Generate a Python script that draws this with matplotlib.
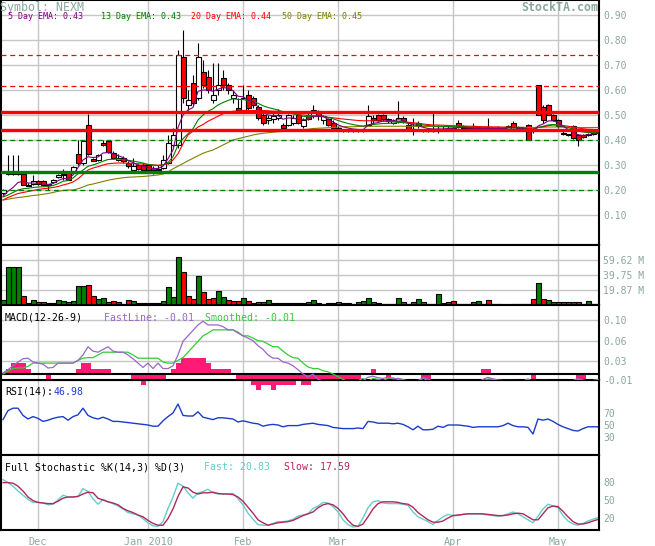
import numpy as np
import pandas as pd
import matplotlib
matplotlib.use("Agg")
import matplotlib.pyplot as plt

plt.rcParams['font.family'] = ['DejaVu Sans Mono']

W, H = 655, 546
TXT = '#8aa89c'

holidays = ["2009-11-26", "2009-12-25", "2010-01-01", "2010-01-18", "2010-02-15", "2010-04-02"]
dates = pd.bdate_range("2009-11-19", "2010-05-13")
dates = dates[~dates.isin(pd.to_datetime(holidays))]

opens = [.190, .268, .268, .268, .265, .222, .225, .236, .235, .222,
         .232, .252, .262, .272, .270, .345, .310, .460, .325, .320,
         .390, .395, .350, .320, .330, .310, .280, .300, .300, .300,
         .290, .280, .290, .310, .380, .380, .730, .540, .630, .570,
         .670, .650, .560, .600, .650, .620, .570, .530, .520, .580,
         .570, .530, .500, .480, .485, .490, .460, .460, .470, .500,
         .455, .500, .495, .515, .480, .485, .470, .450, .440, .436,
         .438, .436, .438, .460, .490, .500, .500, .475, .470, .475,
         .490, .460, .440, .470, .440, .437, .437, .440, .440, .445,
         .445, .470, .455, .450, .450, .445, .447, .445, .448, .448,
         .447, .445, .470, .450, .445, .460, .440, .620, .530, .540,
         .500, .480, .430, .420, .456, .420, .420, .420, .425, .430]
highs = [.205, .340, .340, .340, .270, .230, .262, .240, .240, .226,
         .245, .265, .285, .275, .295, .400, .400, .505, .330, .345,
         .400, .400, .355, .345, .335, .315, .330, .305, .310, .300,
         .295, .300, .340, .420, .450, .760, .840, .600, .660, .790,
         .720, .680, .710, .710, .680, .630, .600, .570, .620, .600,
         .575, .540, .510, .500, .510, .525, .470, .505, .500, .505,
         .490, .510, .540, .520, .500, .490, .480, .455, .445, .440,
         .445, .440, .445, .540, .500, .505, .505, .490, .485, .555,
         .495, .470, .490, .475, .445, .445, .510, .460, .455, .460,
         .455, .480, .460, .455, .470, .450, .450, .490, .450, .455,
         .450, .460, .475, .455, .450, .465, .450, .620, .540, .545,
         .505, .485, .440, .425, .460, .425, .425, .430, .435, .445]
lows = [.180, .260, .262, .262, .220, .215, .222, .222, .215, .200,
        .228, .248, .240, .240, .265, .300, .300, .340, .315, .315,
        .375, .350, .325, .315, .310, .290, .275, .280, .280, .275,
        .265, .275, .285, .305, .370, .370, .550, .520, .540, .560,
        .610, .590, .550, .580, .600, .585, .550, .510, .510, .520,
        .530, .480, .460, .465, .470, .480, .445, .455, .460, .465,
        .450, .480, .490, .480, .465, .455, .445, .435, .432, .432,
        .432, .432, .434, .455, .470, .475, .475, .470, .465, .470,
        .470, .440, .420, .450, .432, .432, .432, .430, .435, .440,
        .440, .450, .440, .440, .440, .440, .440, .440, .440, .440,
        .440, .440, .450, .440, .440, .400, .430, .500, .470, .500,
        .475, .450, .420, .415, .405, .376, .410, .415, .420, .425]
closes = [.200, .265, .265, .265, .222, .218, .236, .225, .220, .220,
          .240, .262, .265, .242, .292, .310, .395, .345, .318, .340,
          .380, .352, .330, .330, .315, .295, .295, .285, .282, .280,
          .280, .285, .320, .390, .420, .740, .570, .560, .550, .730,
          .620, .600, .580, .620, .620, .600, .580, .520, .570, .530,
          .540, .490, .470, .490, .495, .500, .450, .500, .490, .470,
          .480, .485, .520, .495, .495, .460, .450, .440, .436, .438,
          .436, .437, .440, .495, .480, .480, .485, .485, .478, .490,
          .475, .445, .445, .455, .437, .436, .440, .445, .445, .450,
          .450, .455, .450, .445, .445, .447, .445, .448, .444, .445,
          .445, .455, .452, .445, .445, .400, .440, .500, .480, .500,
          .480, .455, .425, .420, .407, .400, .413, .420, .425, .430]

ema5 = [.175, .195, .210, .230, .235, .228, .228, .226, .224, .222,
        .226, .237, .246, .245, .260, .290, .320, .333, .330, .332,
        .348, .350, .345, .338, .330, .318, .310, .300, .295, .290,
        .286, .286, .295, .325, .360, .450, .500, .520, .530, .595,
        .600, .600, .595, .603, .610, .607, .597, .575, .573, .560,
        .553, .532, .510, .500, .497, .498, .483, .488, .488, .482,
        .481, .482, .495, .495, .495, .483, .472, .461, .453, .448,
        .444, .442, .441, .459, .466, .470, .475, .478, .477, .481,
        .479, .468, .460, .458, .451, .446, .444, .444, .444, .446,
        .447, .450, .450, .448, .447, .447, .446, .447, .446, .446,
        .446, .449, .450, .448, .447, .431, .434, .456, .464, .476,
        .477, .470, .455, .443, .431, .421, .418, .421, .425, .428]
ema13 = [.172, .180, .190, .200, .205, .207, .210, .212, .213, .214,
         .218, .225, .235, .238, .248, .265, .280, .295, .300, .307,
         .315, .322, .323, .324, .322, .319, .316, .312, .308, .302,
         .300, .298, .300, .310, .333, .380, .405, .425, .445, .480,
         .500, .515, .525, .540, .550, .558, .565, .562, .562, .558,
         .555, .547, .537, .530, .525, .520, .513, .510, .505, .500,
         .495, .493, .495, .495, .495, .490, .485, .478, .472, .466,
         .462, .458, .456, .460, .462, .464, .466, .467, .467, .470,
         .470, .467, .465, .463, .460, .458, .456, .455, .454, .454,
         .453, .453, .452, .451, .450, .450, .449, .449, .448, .448,
         .447, .448, .448, .448, .447, .440, .440, .450, .455, .460,
         .462, .460, .455, .450, .443, .436, .432, .430, .430, .430]
ema20 = [.160, .170, .178, .186, .190, .194, .198, .202, .205, .207,
         .210, .214, .220, .225, .232, .245, .262, .280, .288, .293,
         .300, .305, .307, .308, .308, .307, .306, .305, .304, .302,
         .300, .299, .300, .305, .320, .345, .385, .420, .435, .452,
         .462, .475, .485, .495, .505, .510, .515, .516, .518, .518,
         .518, .518, .518, .517, .515, .515, .512, .510, .505, .502,
         .500, .498, .497, .495, .493, .491, .489, .486, .484, .482,
         .480, .478, .477, .477, .477, .476, .476, .475, .474, .474,
         .473, .471, .469, .467, .464, .462, .460, .460, .459, .458,
         .457, .457, .456, .455, .455, .454, .453, .453, .452, .452,
         .451, .451, .451, .450, .450, .446, .445, .450, .453, .457,
         .460, .460, .458, .455, .452, .448, .445, .443, .442, .441]
ema50 = [.160, .163, .167, .170, .172, .175, .178, .180, .183, .186,
         .190, .195, .198, .200, .200, .205, .212, .220, .224, .229,
         .234, .239, .243, .246, .249, .251, .252, .253, .254, .256,
         .258, .260, .264, .272, .285, .295, .306, .317, .327, .337,
         .347, .354, .360, .370, .380, .390, .400, .405, .410, .415,
         .420, .424, .427, .429, .431, .433, .434, .436, .437, .439,
         .441, .443, .446, .447, .448, .449, .450, .452, .453, .453,
         .453, .454, .454, .454, .455, .455, .455, .455, .455, .455,
         .455, .455, .455, .454, .454, .454, .454, .453, .453, .453,
         .452, .452, .452, .452, .452, .451, .451, .451, .451, .451,
         .451, .451, .451, .451, .451, .450, .450, .451, .451, .452,
         .452, .452, .451, .451, .451, .450, .450, .450, .450, .450]

vol_m = [6.6, 50, 50, 50, 12, 2.6, 6.6, 4, 4, 2,
         2, 6.6, 5, 4, 5, 25, 25, 26.5, 12, 8,
         9, 4, 5, 4, 1.5, 6.6, 5, 2, 2, 2,
         2, 2, 5, 24, 10.5, 63, 43.6, 12, 8, 38,
         17, 8, 9, 18.5, 10.5, 6.6, 5, 5, 9, 5,
         2, 4, 4, 6.6, 2, 2, 2, 2, 2, 2,
         2, 4, 6.6, 2, 1, 2, 2, 4, 2, 2,
         1.5, 4, 5, 9, 4, 2, 1.5, 1.5, 1.5, 9,
         4, 1.5, 4, 8, 4, 1.5, 1.5, 14.5, 2, 4,
         5, 1.5, 1.5, 1.5, 4, 5, 1.5, 6.6, 1.5, 1.5,
         0.5, 0.5, 1.5, 1.5, 1.5, 1.5, 8, 29, 8, 6.6,
         4, 4, 4, 4, 4, 4, 1.5, 5, 1.5, 1.5]
vol_dir = ("GGGGRRGRRG" "GGGRGGGRRG" "GRRGGRGRRR" "RGGGGGRRRG" "RRRGGRRRGR" "GRRGGGGGGG"
           "GGGRGRRRRR" "RGGGGRGGGG" "RGRGRGGGRG" "RGGGRGGRGG" "GGGGGGRGRG" "RRRRRRGGGG")

macd_fast = [.002, .008, .015, .022, .028, .029, .022, .020, .018, .011,
             .012, .020, .020, .020, .020, .025, .035, .050, .042, .040,
             .045, .050, .042, .040, .040, .035, .028, .020, .012, .020,
             .010, .020, .010, .010, .015, .035, .060, .070, .080, .090,
             .097, .090, .090, .090, .087, .081, .081, .075, .070, .066,
             .061, .052, .045, .035, .029, .029, .022, .020, .015, .008,
             .000, -.005, .000, -.010, -.012, -.013, -.016, -.020, -.022, -.022,
             -.020, -.016, -.012, -.006, -.004, -.007, -.008, -.006, -.009, -.008,
             -.010, -.013, -.016, -.012, -.007, -.009, -.014, -.015, -.016, -.016,
             -.015, -.014, -.015, -.016, -.016, -.015, -.010, -.006, -.009, -.011,
             -.012, -.012, -.012, -.013, -.013, -.009, -.016, -.012, -.012, -.013,
             -.014, -.015, -.017, -.017, -.012, -.008, -.012, -.013, -.012, -.010]
macd_smooth = [.000, .005, .010, .011, .011, .014, .020, .020, .020, .020,
               .020, .020, .020, .020, .020, .025, .029, .030, .030, .035,
               .040, .040, .040, .040, .040, .040, .035, .029, .029, .029,
               .029, .029, .022, .020, .020, .025, .030, .040, .050, .060,
               .070, .075, .081, .081, .081, .081, .081, .077, .070, .070,
               .066, .061, .060, .055, .050, .050, .042, .035, .030, .029,
               .020, .013, .010, .010, .006, .004, .000, -.005, -.010, -.013,
               -.016, -.012, -.008, -.014, -.008, -.010, -.012, -.008, -.007, -.010,
               -.012, -.013, -.013, -.013, -.008, -.012, -.013, -.014, -.015, -.015,
               -.015, -.015, -.015, -.015, -.015, -.015, -.013, -.009, -.010, -.012,
               -.012, -.012, -.012, -.012, -.013, -.010, -.014, -.013, -.012, -.012,
               -.013, -.014, -.015, -.016, -.014, -.010, -.011, -.013, -.012, -.011]
macd_hist = [0, .01, .02, .02, .02, .01, 0, 0, 0, -.01,
             0, 0, 0, 0, 0, .01, .02, .02, .01, .01,
             .01, .01, 0, 0, 0, 0, -.01, -.01, -.02, -.01,
             -.01, -.01, -.01, 0, .01, .02, .03, .03, .03, .03,
             .03, .02, .01, .01, .01, .01, 0, -.01, -.01, -.01,
             -.02, -.03, -.02, -.02, -.03, -.02, -.02, -.02, -.02, -.01,
             -.02, -.02, -.01, -.01, -.01, -.01, -.01, -.01, -.01, -.01,
             -.01, -.01, 0, 0, .01, 0, 0, -.01, 0, 0,
             0, 0, 0, 0, -.01, -.01, 0, 0, 0, 0,
             0, 0, 0, 0, 0, 0, .01, .01, 0, 0,
             0, 0, 0, 0, 0, 0, -.01, 0, 0, 0,
             0, 0, 0, 0, 0, -.01, -.01, 0, 0, 0]

rsi = [59, 74, 78, 78, 66, 60, 64, 61, 56, 58,
       61, 63, 64, 58, 64, 67, 78, 66, 62, 60,
       63, 60, 56, 56, 55, 54, 53, 52, 51, 50,
       48, 48, 57, 64, 70, 85, 66, 65, 65, 72,
       63, 61, 59, 62, 62, 61, 60, 55, 57, 55,
       53, 52, 48, 50, 51, 50, 47, 49, 49, 49,
       51, 52, 53, 51, 50, 49, 46, 45, 44, 44,
       44, 45, 44, 56, 55, 53, 53, 53, 52, 53,
       51, 47, 42, 48, 42, 42, 43, 48, 46, 50,
       50, 50, 49, 48, 46, 47, 47, 47, 47, 47,
       49, 53, 49, 47, 47, 46, 35, 60, 58, 60,
       56, 51, 47, 44, 41, 40, 44, 47, 47, 46.98]

stoch_fast = [84, 79, 73, 65, 58, 51, 46, 46, 45, 42,
              43, 50, 58, 55, 55, 56, 69, 64, 52, 43,
              51, 47, 44, 40, 35, 29, 27, 25, 19, 12,
              7, 6, 14, 36, 55, 78, 73, 62, 53, 62,
              64, 68, 62, 60, 60, 60, 61, 52, 42, 28,
              18, 9, 8, 8, 11, 14, 14, 15, 18, 23,
              25, 27, 36, 40, 46, 45, 39, 30, 17, 9,
              5, 6, 20, 37, 47, 49, 45, 44, 44, 44,
              43, 41, 30, 22, 18, 14, 9, 16, 22, 26,
              24, 24, 26, 27, 27, 27, 26, 25, 24, 23,
              24, 27, 30, 27, 22, 17, 12, 23, 35, 43,
              40, 37, 24, 15, 10, 8, 11, 15, 18, 20.83]
stoch_slow = [79, 79, 78, 73, 65, 55, 49, 46, 45, 44,
              44, 48, 53, 55, 55, 56, 60, 63, 62, 53,
              50, 47, 45, 42, 36, 32, 29, 25, 22, 16,
              11, 8, 8, 19, 35, 56, 72, 70, 63, 60,
              62, 62, 63, 61, 60, 60, 59, 55, 48, 38,
              28, 17, 12, 8, 10, 12, 13, 14, 16, 20,
              24, 27, 30, 37, 42, 44, 42, 36, 27, 16,
              8, 6, 10, 22, 35, 44, 47, 47, 47, 46,
              44, 43, 38, 29, 23, 17, 13, 13, 15, 20,
              24, 25, 26, 27, 27, 27, 27, 26, 25, 24,
              24, 25, 27, 28, 27, 22, 17, 17, 27, 37,
              40, 39, 31, 22, 14, 10, 10, 12, 15, 17.59]

n = len(dates)
x = np.arange(n)
o, h, l, c = map(np.array, (opens, highs, lows, closes))
month_pos = [i for i in range(1, n) if dates[i].month != dates[i - 1].month]
month_lbl = ['Jan 2010' if dates[i].month == 1 else dates[i].strftime('%b') for i in month_pos]

fig = plt.figure(figsize=(W / 100, H / 100), dpi=100)


def panel(top, bottom, z=1):
    ax = fig.add_axes([1 / W, 1 - bottom / H, 598 / W, (bottom - top) / H], zorder=z)
    ax.set_xlim(-0.4, 119.2)
    ax.set_xticks(month_pos)
    ax.tick_params(axis='x', length=0, labelbottom=False)
    ax.tick_params(axis='y', length=0, left=False, labelleft=False, right=False,
                   labelright=True, pad=3, labelsize=7, labelcolor=TXT)
    ax.grid(axis='x', color='#c6c6c6', lw=1)
    ax.set_axisbelow(True)
    for s in ax.spines.values():
        s.set_linewidth(1.5)
        s.set_color('black')
    return ax


def ftext(px, py, s, color, size=7.1, **kw):
    fig.text(px / W, 1 - py / H, s, color=color, fontsize=size, va='center', ha='left', zorder=10, **kw)


# price
ax1 = panel(0, 245)
ax1.set_ylim(-0.02, 0.96)
pticks = [0.1, 0.2, 0.3, 0.4, 0.5, 0.6, 0.7, 0.8, 0.9]
ax1.set_yticks(pticks, ['%.2f' % v for v in pticks])
ax1.grid(axis='y', color='#c6c6c6', lw=1)
up = c >= o
ax1.vlines(x, l, h, color='black', lw=0.8, zorder=2)
ax1.bar(x, np.maximum(np.abs(c - o), 0.003), bottom=np.minimum(o, c), width=1.0,
        color=np.where(up, 'white', 'red'), edgecolor='black', lw=0.8, zorder=3)
ax1.plot(x, ema50, color='#808000', lw=0.8, zorder=4)
ax1.plot(x, ema20, color='#ff0000', lw=0.8, zorder=4)
ax1.plot(x, ema13, color='#008000', lw=0.8, zorder=4)
ax1.plot(x, ema5, color='#800080', lw=0.8, zorder=4)
ax1.axhline(0.511, color='red', lw=2.4, zorder=5)
ax1.axhline(0.439, color='red', lw=2.4, zorder=5)
ax1.axhline(0.271, color='green', lw=2.4, zorder=5)
ax1.axhline(0.740, color='red', lw=0.9, ls=(0, (4, 3)), zorder=5)
ax1.axhline(0.617, color='red', lw=0.9, ls=(0, (4, 3)), zorder=5)
ax1.axhline(0.400, color='green', lw=0.9, ls=(0, (4, 3)), zorder=5)
ax1.axhline(0.200, color='green', lw=0.9, ls=(0, (4, 3)), zorder=5)

# volume
ax2 = panel(245, 305)
vol = np.array(vol_m) * 1e6
ax2.set_ylim(0, 79.5e6)
vt = [19.87e6, 39.75e6, 59.62e6]
ax2.set_yticks(vt, ['19.87 M', '39.75 M', '59.62 M'])
ax2.grid(axis='y', color='#c6c6c6', lw=1)
ax2.bar(x, vol, width=1.0, color=['#008000' if d == 'G' else '#ff0000' for d in vol_dir],
        edgecolor='black', lw=0.8, zorder=3)

# macd
ax3 = panel(305, 380, z=3)
ax3.set_ylim(-0.011, 0.1266)
ax3.set_yticks([-0.011, 0.024, 0.061, 0.099], ['-0.01', '0.03', '0.06', '0.10'])
ax3.grid(axis='y', color='#c6c6c6', lw=1)
ax3.bar(x, macd_hist, width=1.0, color='#ff1a75', lw=0, clip_on=False, zorder=2)
ax3.axhline(0, color='black', lw=1.5, zorder=3)
ax3.plot(x, macd_smooth, color='#33cc33', lw=0.9, zorder=4)
ax3.plot(x, macd_fast, color='#9966cc', lw=0.9, zorder=4)

# rsi
ax4 = panel(380, 455)
ax4.set_ylim(0, 125)
ax4.set_yticks([30, 50, 70])
ax4.plot(x, rsi, color='#1c3cc8', lw=1.0)

# stochastic
ax5 = panel(455, 530)
ax5.set_ylim(0, 125)
ax5.set_yticks([20, 50, 80])
ax5.plot(x, stoch_fast, color='#66cccc', lw=1.0)
ax5.plot(x, stoch_slow, color='#b0285c', lw=1.0)
ax5.set_xticks(month_pos, month_lbl)
ax5.tick_params(axis='x', labelbottom=True, pad=5, labelsize=7.3, labelcolor=TXT)

fig.text(0, 1 - 10.5 / H, 'Symbol: NEXM', color=TXT, fontsize=8.4, ha='left', va='baseline', zorder=10)
fig.text(598 / W, 1 - 11 / H, 'StockTA.com', color=TXT, fontsize=8.4, fontweight='bold',
         ha='right', va='baseline', zorder=10)
ftext(8, 16.5, '5 Day EMA: 0.43', '#800080', size=6)
ftext(101, 16.5, '13 Day EMA: 0.43', '#008000', size=6)
ftext(191, 16.5, '20 Day EMA: 0.44', '#ff0000', size=6)
ftext(282, 16.5, '50 Day EMA: 0.45', '#808000', size=6)
ftext(5, 318, 'MACD(12-26-9)', 'black')
ftext(104, 318, 'FastLine: -0.01', '#9966cc')
ftext(205, 318, 'Smoothed: -0.01', '#33cc33')
ftext(5, 392, 'RSI(14):', 'black')
ftext(54, 392, '46.98', '#1c3cc8')
ftext(5, 467, 'Full Stochastic %K(14,3) %D(3)', 'black')
ftext(204, 467, 'Fast: 20.83', '#66cccc')
ftext(284, 467, 'Slow: 17.59', '#b0285c')

fig.savefig('out.png', dpi=100)
